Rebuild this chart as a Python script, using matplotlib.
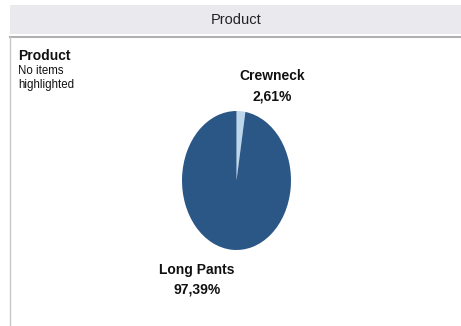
import matplotlib.pyplot as plt
from matplotlib.patches import Rectangle
from matplotlib.lines import Line2D

# data
products = ["Crewneck", "Long Pants"]
shares = [2.61, 97.39]
colors = ["#bcd6ec", "#2b5787"]

W, H = 461, 326
fig = plt.figure(figsize=(W / 100, H / 100), dpi=100)
fig.patch.set_facecolor("white")

def fx(x):
    return x / W

def fy(y):
    return 1 - y / H

fam = ["Liberation Sans", "DejaVu Sans"]

# header band
fig.add_artist(Rectangle((fx(10), fy(34)), fx(461) - fx(10), (34 - 5) / H,
                         transform=fig.transFigure, color="#e9e9ee", lw=0))
fig.text(fx(236), fy(20), "Product", ha="center", va="center",
         fontsize=10.5, family=fam, color="#222222")

# panel border
fig.add_artist(Line2D([fx(10), fx(461)], [fy(37), fy(37)], transform=fig.transFigure,
                      color="#b0b0b0", lw=1.5))
fig.add_artist(Line2D([fx(10), fx(10)], [fy(37), fy(326)], transform=fig.transFigure,
                      color="#c8c8c8", lw=1))

# legend-ish text
fig.text(fx(18), fy(56), "Product", ha="left", va="center", fontsize=10,
         fontweight="bold", family=fam, color="#111111")
fig.text(fx(18), fy(71), "No items", ha="left", va="center", fontsize=8.3,
         family=fam, color="#111111")
fig.text(fx(18), fy(85), "highlighted", ha="left", va="center", fontsize=8.3,
         family=fam, color="#111111")

# pie, stretched into an ellipse
ax = fig.add_axes([fx(182), fy(250), (291 - 182) / W, (250 - 111) / H])
ax.pie(shares, colors=colors, startangle=90, counterclock=False,
       wedgeprops=dict(linewidth=0))
ax.set_aspect("auto")
ax.set_xlim(-1, 1)
ax.set_ylim(-1, 1)
ax.axis("off")

# slice labels
fig.text(fx(272), fy(76), products[0], ha="center", va="center", fontsize=10,
         fontweight="bold", family=fam, color="#111111")
fig.text(fx(272), fy(96), f"{shares[0]:.2f}%".replace(".", ","), ha="center",
         va="center", fontsize=10, fontweight="bold", family=fam, color="#111111")
fig.text(fx(197), fy(270), products[1], ha="center", va="center", fontsize=10,
         fontweight="bold", family=fam, color="#111111")
fig.text(fx(197), fy(290), f"{shares[1]:.2f}%".replace(".", ","), ha="center",
         va="center", fontsize=10, fontweight="bold", family=fam, color="#111111")

fig.savefig("out.png", dpi=100)
